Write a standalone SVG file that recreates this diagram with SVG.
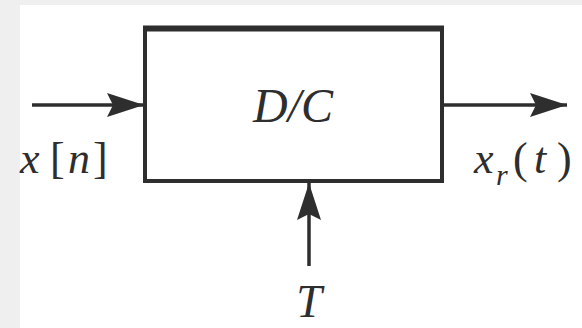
<svg xmlns="http://www.w3.org/2000/svg" width="582" height="328" viewBox="0 0 582 328">
  <defs>
    <style>
      .ln { stroke: #2e2e2e; stroke-width: 3.5; fill: none; }
      .box { stroke: #2e2e2e; stroke-width: 4; fill: none; }
      .lbl { font-family: "Liberation Serif", "Times New Roman", serif; font-style: italic; fill: #2e2e2e; }
      .up { font-style: normal; }
    </style>
    <marker id="ah" markerUnits="userSpaceOnUse" markerWidth="40" markerHeight="28" viewBox="-38 -14 40 28" refX="0" refY="0" orient="auto">
      <path d="M0,0 L-37,-12 L-31,0 L-37,12 Z" fill="#2e2e2e"/>
    </marker>
  </defs>
  <rect x="0" y="0" width="582" height="328" fill="#efefef"/>
  <rect x="20" y="5" width="562" height="323" fill="#ffffff"/>

  <g id="dc">
    <rect class="box" x="145" y="29" width="297" height="152"/>
    <line x1="143" y1="28.5" x2="444" y2="28.5" stroke="#2e2e2e" stroke-width="6"/>
    <text class="lbl" x="293" y="122" font-size="48" text-anchor="middle">D/C</text>
  </g>

  <g id="connectors">
    <line class="ln" x1="32" y1="105" x2="144" y2="105" marker-end="url(#ah)"/>
    <line class="ln" x1="443" y1="105" x2="567" y2="105" marker-end="url(#ah)"/>
    <line class="ln" x1="309" y1="266" x2="309" y2="183" marker-end="url(#ah)"/>
  </g>

  <g id="in-label">
    <text class="lbl" y="173" font-size="44"><tspan x="20">x</tspan><tspan class="up" x="50">[</tspan><tspan x="68">n</tspan><tspan class="up" x="93">]</tspan></text>
  </g>
  <g id="out-label">
    <text class="lbl" y="173" font-size="44"><tspan x="474">x</tspan><tspan x="496" y="185" font-size="30">r</tspan><tspan class="up" x="513" y="173">(</tspan><tspan x="534">t</tspan><tspan class="up" x="557">)</tspan></text>
  </g>
  <g id="t-label">
    <text class="lbl" x="309" y="317" font-size="46" text-anchor="middle">T</text>
  </g>
</svg>
